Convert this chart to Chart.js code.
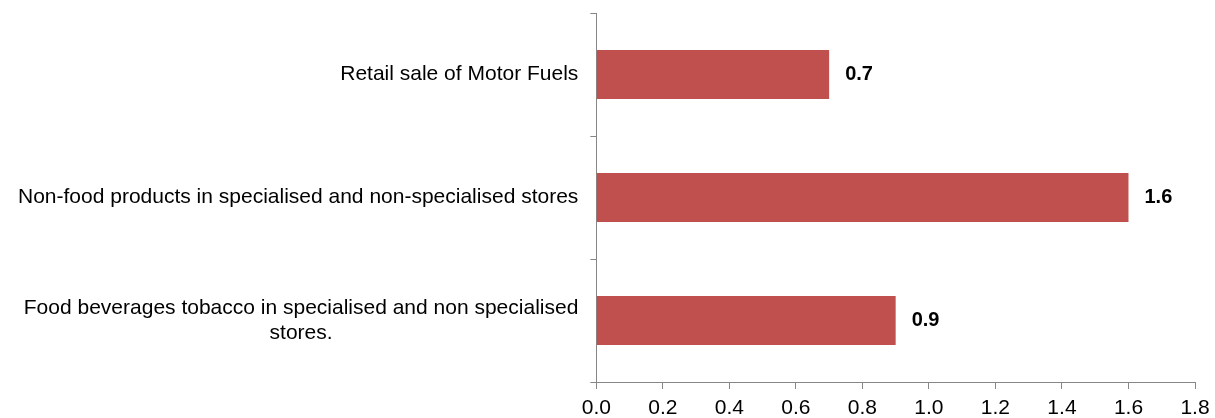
<!DOCTYPE html>
<html>
<head>
<meta charset="utf-8">
<script src="https://cdn.jsdelivr.net/npm/chart.js@4/dist/chart.umd.min.js"></script>
<style>
  html, body { margin: 0; padding: 0; background: #fff; }
  #wrap { width: 1215px; height: 418px; }
</style>
</head>
<body>
<div id="wrap"><canvas id="myChartRetail"></canvas></div>
<script>
const categorias = [
    ['Retail sale of Motor Fuels'],
    ['Non-food products in specialised and non-specialised stores'],
    ['Food beverages tobacco in specialised and non specialised', 'stores.']
]
const valores = [0.7, 1.6, 0.9]
const xTicks = { min: 0, max: 1.8, step: 0.2 }

const fuente = '"Liberation Sans", Arial, sans-serif'
const colorBarra = '#C0504D'
const colorEje = '#868686'

// labels de categoria: bloque alineado a la derecha, lineas centradas entre si
const labelsPlugin = {
    id: 'labelsCategoria',
    afterDraw(chart) {
        const ctx = chart.ctx
        const y = chart.scales.y
        const right = y.right - 6 - 12
        ctx.save()
        ctx.font = '21px ' + fuente
        ctx.fillStyle = '#000'
        ctx.textAlign = 'center'
        ctx.textBaseline = 'middle'
        categorias.forEach((lineas, i) => {
            const ancho = Math.max(...lineas.map(l => ctx.measureText(l).width))
            const cx = right - ancho / 2
            const cy = y.getPixelForValue(i)
            const alto = 25.5
            lineas.forEach((l, j) => {
                ctx.fillText(l, cx, cy + (j - (lineas.length - 1) / 2) * alto)
            })
        })
        ctx.restore()
    }
}

// valores al final de cada barra
const valoresPlugin = {
    id: 'valoresBarra',
    afterDatasetsDraw(chart) {
        const ctx = chart.ctx
        const meta = chart.getDatasetMeta(0)
        ctx.save()
        ctx.font = 'bold 20px ' + fuente
        ctx.fillStyle = '#000'
        ctx.textAlign = 'left'
        ctx.textBaseline = 'middle'
        meta.data.forEach((bar, i) => {
            ctx.fillText(valores[i].toFixed(1), bar.x + 16, bar.y)
        })
        ctx.restore()
    }
}

const data = {
    labels: categorias,
    datasets: [{
        data: valores,
        backgroundColor: colorBarra,
        borderWidth: 0,
        barPercentage: 0.4,
        categoryPercentage: 1
    }]
}

const options = {
    indexAxis: 'y',
    responsive: true,
    maintainAspectRatio: false,
    animation: false,
    layout: { padding: { top: 7, right: 20, left: 6, bottom: -9 } },
    plugins: {
        legend: { display: false },
        tooltip: { enabled: false }
    },
    scales: {
        x: {
            min: xTicks.min,
            max: xTicks.max,
            border: { color: colorEje, width: 1 },
            grid: { drawOnChartArea: false, color: colorEje, tickLength: 7 },
            afterFit: s => { s.paddingRight = 0 },
            ticks: {
                stepSize: xTicks.step,
                color: '#000',
                padding: 9,
                font: { family: fuente, size: 21, lineHeight: '20px' },
                callback: v => Number(v).toFixed(1)
            }
        },
        y: {
            border: { color: colorEje, width: 1 },
            grid: { drawOnChartArea: false, color: colorEje, tickLength: 6, offset: true },
            ticks: {
                color: 'transparent',
                padding: 12,
                font: { family: fuente, size: 21, lineHeight: '1px' }
            }
        }
    }
}

new Chart('myChartRetail', { type: 'bar', data, options, plugins: [labelsPlugin, valoresPlugin] })
</script>
</body>
</html>
